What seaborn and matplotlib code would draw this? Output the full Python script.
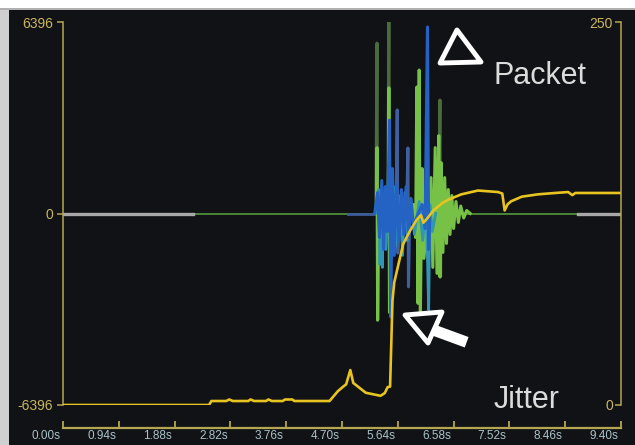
import matplotlib
matplotlib.use("Agg")
import matplotlib.pyplot as plt
import seaborn as sns
from matplotlib.patches import Polygon, Rectangle

# x axis ticks (seconds)
tick_times = [0.00, 0.94, 1.88, 2.82, 3.76, 4.70, 5.64, 6.58, 7.52, 8.46, 9.40]
tick_labels = ["0.00s", "0.94s", "1.88s", "2.82s", "3.76s", "4.70s",
               "5.64s", "6.58s", "7.52s", "8.46s", "9.40s"]
packet_ticks = [-6396, 0, 6396]
jitter_ticks = [0, 250]

# packet baseline segments
grey_left_t = [0.00, 2.19]
grey_right_t = [8.68, 9.40]
green_base_t = [2.19, 8.68]
slate_base_t = [4.80, 5.26]
base_v = [0, 0]

# packet burst, one trace per colour
olive_t = [5.27, 5.29, 5.30, 5.31, 5.47, 5.49, 5.50, 5.51, 6.33, 6.35, 6.36, 6.37]
olive_v = [0, 5690, -3560, 0, 0, 6396, -3300, 0, 0, 3790, -2120, 0]

green_t = [5.28, 5.29, 5.30, 5.32, 5.40, 5.42, 5.44, 5.48, 5.49, 5.50, 5.52,
           5.90, 5.94, 5.96, 5.98, 6.00, 6.02, 6.05, 6.08, 6.20, 6.23, 6.27,
           6.30, 6.33, 6.35, 6.37, 6.40, 6.43, 6.46, 6.49, 6.52, 6.55, 6.58,
           6.62, 6.66, 6.70, 6.75, 6.80, 6.86]
green_v = [0, 2200, -3560, 300, -300, 400, -200, 0, 4200, -3300, 0,
           300, -800, 4225, -3000, 4790, -3320, 1500, -1500, 1200, -1800, 2200,
           -2000, 2600, -2120, 1700, -1300, 1200, -1000, 800, -700, 600, -500,
           400, -300, 250, -150, 100, 0]

slate_t = [5.61, 5.63, 5.64, 5.66, 5.79, 5.81, 5.82, 5.84]
slate_v = [0, 3460, -1320, 0, 0, 2190, -2450, 0]

teal_t = [5.30, 5.32, 5.34, 5.36, 5.38, 5.40, 5.44, 5.48, 5.53, 5.57, 5.60,
          5.68, 5.72, 5.76, 5.80, 5.86, 5.92, 6.00, 6.06, 6.12, 6.14, 6.16,
          6.18, 6.22, 6.28]
teal_v = [0, 800, -1700, 600, -1800, 500, -1200, 700, -1500, 900, -1100,
          600, -1400, 700, -900, 500, -700, 400, -900, 200, -1500, -3220,
          300, -600, 0]

blue_t = [5.25, 5.30, 5.33, 5.37, 5.40, 5.43, 5.46, 5.50, 5.52, 5.55, 5.58,
          5.62, 5.66, 5.70, 5.74, 5.78, 5.82, 5.86, 5.90, 6.05, 6.10, 6.14,
          6.16, 6.18]
blue_v = [0, 700, -800, 1100, -1200, 900, -600, 3120, -3450, 1500, -1400,
          1000, -900, 800, -700, 900, -800, 500, -400, 300, -500, 6230,
          -1200, 0]

# jitter trace (right axis)
jitter_t = [0.00, 2.46, 2.50, 2.75, 2.80, 2.86, 3.12, 3.16, 3.22, 3.42, 3.46,
            3.52, 3.70, 3.74, 3.86, 3.90, 4.49, 4.63, 4.72, 4.77, 4.84, 4.89,
            5.10, 5.35, 5.42, 5.47, 5.51, 5.53, 5.55, 5.58, 5.64, 5.73, 5.85,
            5.96, 6.03, 6.07, 6.12, 6.24, 6.39, 6.49, 6.71, 6.99, 7.33, 7.40,
            7.44, 7.49, 7.55, 7.73, 8.00, 8.29, 8.51, 8.58, 8.63, 9.40]
jitter_v = [0, 0, 2.6, 2.6, 3.6, 2.6, 2.6, 3.6, 2.6, 2.6, 3.6,
            2.6, 2.6, 3.6, 3.6, 2.6, 2.6, 9, 12, 13.5, 22.8, 14.4,
            8, 6, 7.8, 11.7, 12, 40, 68, 80, 90, 105, 114,
            121, 124, 119, 121, 127, 131.8, 134, 137.5, 140, 139, 138,
            127, 131, 133, 136, 137.5, 138.4, 139, 137, 138.4, 138.4]

bg = "#111216"
axis_col = "#b5a651"
plt.rcParams["font.family"] = ["Liberation Sans", "DejaVu Sans"]

fig = plt.figure(figsize=(6.35, 4.45), dpi=100, facecolor="white")
for r in [Rectangle((0, 0), 9 / 635, 435 / 445, facecolor="#cfcfcf"),
          Rectangle((0, 435 / 445), 1, 2 / 445, facecolor="#b0b0b0"),
          Rectangle((9 / 635, 0), 1, 435 / 445, facecolor=bg)]:
    r.set_transform(fig.transFigure)
    r.set_edgecolor("none")
    r.set_zorder(-10)
    fig.patches.append(r)

ax = fig.add_axes([63 / 635, 40 / 445, 558 / 635, 383 / 445])
ax.set_facecolor(bg)

kw = dict(ax=ax, estimator=None, sort=False, legend=False)
sns.lineplot(x=green_base_t, y=base_v, color="#4f8f3a", linewidth=1.3, **kw)
sns.lineplot(x=grey_left_t, y=base_v, color="#a8a8a8", linewidth=2.4, **kw)
sns.lineplot(x=grey_right_t, y=base_v, color="#a8a8a8", linewidth=2.4, **kw)
sns.lineplot(x=slate_base_t, y=base_v, color="#3d5a99", linewidth=2.0, **kw)
sns.lineplot(x=olive_t, y=olive_v, color="#4b6b3b", linewidth=2.2, **kw)
sns.lineplot(x=green_t, y=green_v, color="#77c246", linewidth=2.2, **kw)
sns.lineplot(x=slate_t, y=slate_v, color="#3f5f9f", linewidth=2.2, **kw)
sns.lineplot(x=teal_t, y=teal_v, color="#3195b5", linewidth=2.0, **kw)
sns.lineplot(x=blue_t, y=blue_v, color="#2463c4", linewidth=2.2, **kw)

ax.set_xlim(0, 9.40)
ax.set_ylim(-6396, 6396)
for s in ["top", "right"]:
    ax.spines[s].set_visible(False)
ax.spines["left"].set_color(axis_col)
ax.spines["left"].set_linewidth(1.1)
ax.spines["bottom"].set_position(("outward", 16.6))
ax.spines["bottom"].set_color(axis_col)
ax.spines["bottom"].set_linewidth(1.6)
ax.set_yticks(packet_ticks, [str(v) for v in packet_ticks])
ax.tick_params(axis="y", direction="out", length=4.3, width=1.1, color=axis_col,
               labelcolor="#c9b75a", labelsize=10, pad=3)
ax.set_xticks(tick_times)
ax.tick_params(axis="x", direction="in", length=5, width=1.3, color=axis_col,
               labelbottom=False)
for t, lab in zip(tick_times, tick_labels):
    ax.annotate(lab, xy=(t, 0), xycoords=("data", "axes fraction"),
                xytext=(-2, -22.3), textcoords="offset points",
                ha="right", va="center", fontsize=8.5, color="#a9c3c9",
                annotation_clip=False)
ax.set_xlabel("")
ax.set_ylabel("")

ax2 = ax.twinx()
sns.lineplot(x=jitter_t, y=jitter_v, ax=ax2, estimator=None, sort=False,
             color="#e8c420", linewidth=1.9, legend=False)
ax2.set_ylim(0, 250)
ax2.set_xlim(0, 9.40)
for s in ["top", "left", "bottom"]:
    ax2.spines[s].set_visible(False)
ax2.spines["right"].set_color(axis_col)
ax2.spines["right"].set_linewidth(1.1)
ax2.set_yticks(jitter_ticks, [str(v) for v in jitter_ticks])
ax2.tick_params(axis="y", direction="in", length=4.3, width=1.1, color=axis_col,
                labelcolor="#c9b75a", labelsize=10, pad=-5.8)
for lab in ax2.get_yticklabels():
    lab.set_horizontalalignment("right")
ax2.set_ylabel("")

# annotation arrows
ax2.add_patch(Polygon([(6.637, 6129), (6.351, 5026), (7.042, 5060)], closed=True,
                      transform=ax.transData, facecolor=bg, edgecolor="white",
                      linewidth=3.5, joinstyle="round", clip_on=False))
ax2.plot([6.25, 6.80], [-3900, -4300], transform=ax.transData, color="white",
         linewidth=8, solid_capstyle="butt")
ax2.add_patch(Polygon([(5.761, -3390), (6.385, -3290), (6.149, -4325)], closed=True,
                      transform=ax.transData, facecolor=bg, edgecolor="white",
                      linewidth=3.5, joinstyle="round", clip_on=False))

ax2.text(0.771, 0.838, "Packet", transform=ax.transAxes, fontsize=22,
         color="#dcdcdc", va="baseline", ha="left")
ax2.text(0.771, -0.008, "Jitter", transform=ax.transAxes, fontsize=22,
         color="#dcdcdc", va="baseline", ha="left")

fig.savefig("out.png", dpi=100, facecolor=fig.get_facecolor())
